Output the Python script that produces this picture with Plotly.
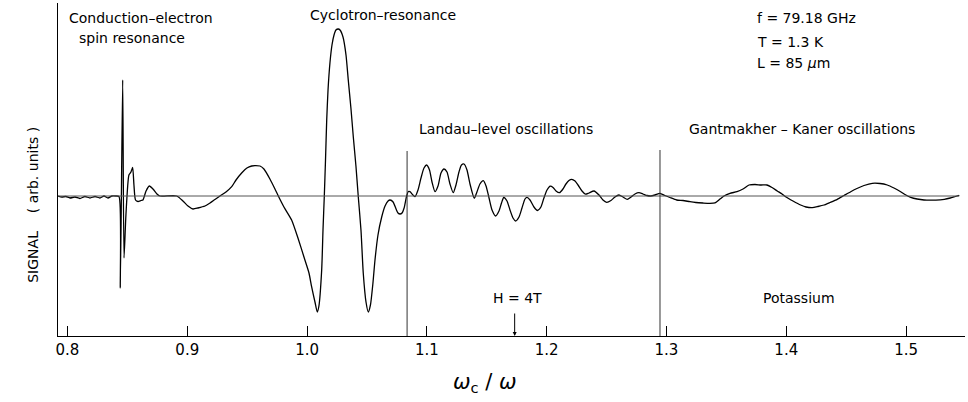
import plotly.graph_objects as go

# ---- data (omega_c/omega vs signal, arb. units) ----
omega_ratio = [
    0.7921, 0.7954, 0.7987, 0.8021, 0.8063, 0.8104, 0.8146, 0.8188, 0.8230, 0.8271,
    0.8305, 0.8338, 0.8371, 0.8405, 0.8430, 0.8441, 0.8461, 0.8472, 0.8488, 0.8513,
    0.8530, 0.8544, 0.8555, 0.8568, 0.8589, 0.8614, 0.8630, 0.8656, 0.8683, 0.8714,
    0.8747, 0.8772, 0.8912, 0.8964, 0.9006, 0.9048, 0.9089, 0.9148, 0.9190, 0.9231,
    0.9273, 0.9323, 0.9371, 0.9407, 0.9454, 0.9498, 0.9538, 0.9565, 0.9607, 0.9640,
    0.9690, 0.9732, 0.9760, 0.9807, 0.9871, 0.9924, 0.9982, 1.0016, 1.0038, 1.0066,
    1.0085, 1.0099, 1.0122, 1.0133, 1.0144, 1.0154, 1.0164, 1.0175, 1.0191, 1.0208,
    1.0225, 1.0241, 1.0260, 1.0275, 1.0300, 1.0325, 1.0344, 1.0366, 1.0386, 1.0408,
    1.0427, 1.0450, 1.0469, 1.0492, 1.0511, 1.0529, 1.0550, 1.0567, 1.0592, 1.0623,
    1.0651, 1.0676, 1.0693, 1.0718, 1.0743, 1.0759, 1.0776, 1.0793, 1.0810, 1.0831,
    1.0846, 1.0859, 1.0884, 1.0901, 1.0926, 1.0951, 1.0976, 1.0998, 1.1022, 1.1043,
    1.1068, 1.1093, 1.1118, 1.1143, 1.1168, 1.1193, 1.1220, 1.1243, 1.1268, 1.1289,
    1.1310, 1.1335, 1.1360, 1.1396, 1.1418, 1.1443, 1.1471, 1.1494, 1.1519, 1.1544,
    1.1574, 1.1602, 1.1623, 1.1642, 1.1669, 1.1694, 1.1719, 1.1741, 1.1769, 1.1794,
    1.1819, 1.1836, 1.1861, 1.1894, 1.1923, 1.1952, 1.1977, 1.2003, 1.2030, 1.2053,
    1.2078, 1.2107, 1.2136, 1.2161, 1.2186, 1.2209, 1.2237, 1.2262, 1.2295, 1.2324,
    1.2353, 1.2395, 1.2437, 1.2470, 1.2501, 1.2537, 1.2570, 1.2603, 1.2637, 1.2673,
    1.2704, 1.2737, 1.2770, 1.2804, 1.2837, 1.2868, 1.2904, 1.2946, 1.2987, 1.3029,
    1.3085, 1.3138, 1.3196, 1.3246, 1.3305, 1.3363, 1.3405, 1.3447, 1.3480, 1.3530,
    1.3589, 1.3639, 1.3689, 1.3739, 1.3789, 1.3839, 1.3881, 1.3925, 1.3965, 1.3995,
    1.4056, 1.4120, 1.4165, 1.4217, 1.4265, 1.4315, 1.4365, 1.4426, 1.4482, 1.4538,
    1.4590, 1.4649, 1.4718, 1.4783, 1.4843, 1.4899, 1.4955, 1.4991, 1.5039, 1.5092,
    1.5150, 1.5217, 1.5284, 1.5319, 1.5369, 1.5411, 1.5444,
]
signal = [
    0.00, -0.10, -0.05, -0.20, -0.10, -0.25, -0.05, -0.20, -0.05, -0.20,
    0.00, -0.20, 0.00, 0.00, -0.05, -9.20, 11.60, -6.20, -1.90, 2.10,
    2.40, 2.85, 1.10, -0.40, -0.55, -0.45, -0.40, 0.50, 1.00, 0.70,
    0.20, 0.00, 0.00, -0.50, -1.00, -1.30, -1.20, -1.00, -0.70, -0.35,
    0.00, 0.40, 0.93, 1.60, 2.30, 2.80, 3.00, 3.03, 3.00, 2.70,
    1.70, 0.70, 0.00, -1.10, -2.40, -4.20, -6.40, -7.70, -9.07, -10.60,
    -11.60, -11.00, -7.40, -3.40, 0.00, 3.60, 7.60, 10.60, 13.30, 15.10,
    16.10, 16.60, 16.70, 16.60, 15.90, 14.10, 11.60, 8.80, 5.90, 3.00,
    0.00, -3.40, -7.70, -10.60, -11.60, -10.90, -8.70, -6.40, -3.90, -2.10,
    -1.00, -0.50, -0.40, -0.60, -1.30, -1.70, -1.80, -1.70, -1.20, 0.00,
    0.45, 0.43, 0.10, -0.07, 0.60, 1.80, 2.80, 3.10, 2.60, 1.40,
    0.43, 1.00, 2.30, 2.70, 2.40, 1.20, 0.33, 1.10, 2.40, 3.10,
    3.20, 2.60, 1.20, -0.23, 0.40, 1.20, 1.53, 1.00, -0.20, -1.40,
    -2.00, -1.50, -0.70, -0.15, -0.50, -1.40, -2.20, -2.50, -2.10, -1.20,
    -0.30, -0.13, -0.40, -1.10, -1.45, -1.10, -0.20, 0.60, 0.98, 0.85,
    0.50, 0.33, 0.70, 1.20, 1.55, 1.67, 1.50, 1.10, 0.50, 0.18,
    0.30, 0.50, 0.10, -0.40, -0.63, -0.45, -0.10, 0.10, -0.10, -0.33,
    -0.10, 0.20, 0.33, 0.20, 0.05, 0.00, 0.10, 0.27, 0.05, -0.15,
    -0.40, -0.45, -0.57, -0.65, -0.70, -0.73, -0.68, -0.30, 0.00, 0.27,
    0.43, 0.70, 1.10, 1.15, 1.10, 1.10, 0.85, 0.50, 0.20, -0.07,
    -0.50, -0.90, -1.10, -1.17, -1.05, -0.90, -0.65, -0.33, 0.05, 0.43,
    0.75, 1.05, 1.27, 1.25, 1.10, 0.80, 0.43, 0.15, -0.13, -0.30,
    -0.40, -0.42, -0.38, -0.33, -0.20, -0.05, 0.07,
]

tick_values = [0.8, 0.9, 1.0, 1.1, 1.2, 1.3, 1.4, 1.5]
tick_labels = ["0.8", "0.9", "1.0", "1.1", "1.2", "1.3", "1.4", "1.5"]
region_bounds = [1.0835, 1.2946]   # dividing lines between regimes
field_4T = 1.1733                  # position of H = 4 T marker

X_RANGE = [0.7921, 1.5492]
Y_RANGE = [-14.0, 19.3]
FONT = "DejaVu Sans"

fig = go.Figure()
fig.add_trace(go.Scatter(
    x=omega_ratio, y=signal, mode="lines",
    line=dict(color="black", width=1.3, shape="spline", smoothing=0.6),
    hoverinfo="skip", showlegend=False,
))

shapes = [
    dict(type="line", xref="x", yref="y", x0=X_RANGE[0], x1=omega_ratio[-1], y0=0, y1=0,
         line=dict(color="#555555", width=1)),
]
for xb, top in zip(region_bounds, [4.5, 4.6]):
    shapes.append(dict(type="line", xref="x", yref="y", x0=xb, x1=xb, y0=Y_RANGE[0], y1=top,
                       line=dict(color="#333333", width=1)))

txt = dict(family=FONT, size=14, color="black")
annotations = [
    dict(x=0.7996, y=17.8, text="Conduction–electron", xanchor="left"),
    dict(x=0.8080, y=15.8, text="spin resonance", xanchor="left"),
    dict(x=1.0630, y=18.1, text="Cyclotron–resonance", xanchor="center"),
    dict(x=1.0917, y=6.7, text="Landau–level oscillations", xanchor="left"),
    dict(x=1.3171, y=6.7, text="Gantmakher – Kaner oscillations", xanchor="left"),
    dict(x=1.3739, y=17.8, text="f = 79.18 GHz", xanchor="left"),
    dict(x=1.3739, y=15.4, text="T = 1.3 K", xanchor="left"),
    dict(x=1.3739, y=13.3, text="L = 85 <i>μ</i>m", xanchor="left"),
    dict(x=1.1535, y=-10.2, text="H = 4T", xanchor="left"),
    dict(x=1.3789, y=-10.2, text="Potassium", xanchor="left"),
]
for a in annotations:
    a.update(xref="x", yref="y", yanchor="middle", showarrow=False, font=txt)

annotations.append(dict(
    x=field_4T, y=Y_RANGE[0], ax=field_4T, ay=-11.6, xref="x", yref="y", axref="x", ayref="y",
    text="", showarrow=True, arrowhead=2, arrowsize=0.8, arrowwidth=1, arrowcolor="black",
))
annotations.append(dict(
    x=-0.0386, y=0.394, xref="paper", yref="paper",
    text="SIGNAL\u00a0\u00a0\u00a0\u00a0(\u00a0arb. units\u00a0)",
    textangle=-90, showarrow=False, font=dict(family=FONT, size=14, color="black"),
))
annotations.append(dict(
    x=0.471, y=-0.141, xref="paper", yref="paper", text="<i>ω</i><sub>c</sub> / <i>ω</i>",
    showarrow=False, yanchor="middle", font=dict(family=FONT, size=21, color="black"),
))

fig.update_layout(
    width=968, height=402,
    margin=dict(l=58, r=3, t=3, b=66),
    paper_bgcolor="white", plot_bgcolor="white",
    shapes=shapes, annotations=annotations,
    xaxis=dict(range=X_RANGE, tickvals=tick_values, ticktext=tick_labels,
               ticks="inside", ticklen=10, tickcolor="black", tickwidth=1,
               showline=True, linecolor="black", linewidth=1.3,
               showgrid=False, zeroline=False,
               tickfont=dict(family=FONT, size=15, color="black")),
    yaxis=dict(range=Y_RANGE, showticklabels=False, ticks="",
               showline=True, linecolor="black", linewidth=1.3,
               showgrid=False, zeroline=False),
)

fig.write_html(
    "out.html",
    config={"displayModeBar": False},
    post_script="document.body.style.margin='0';document.body.style.overflow='hidden';",
)
